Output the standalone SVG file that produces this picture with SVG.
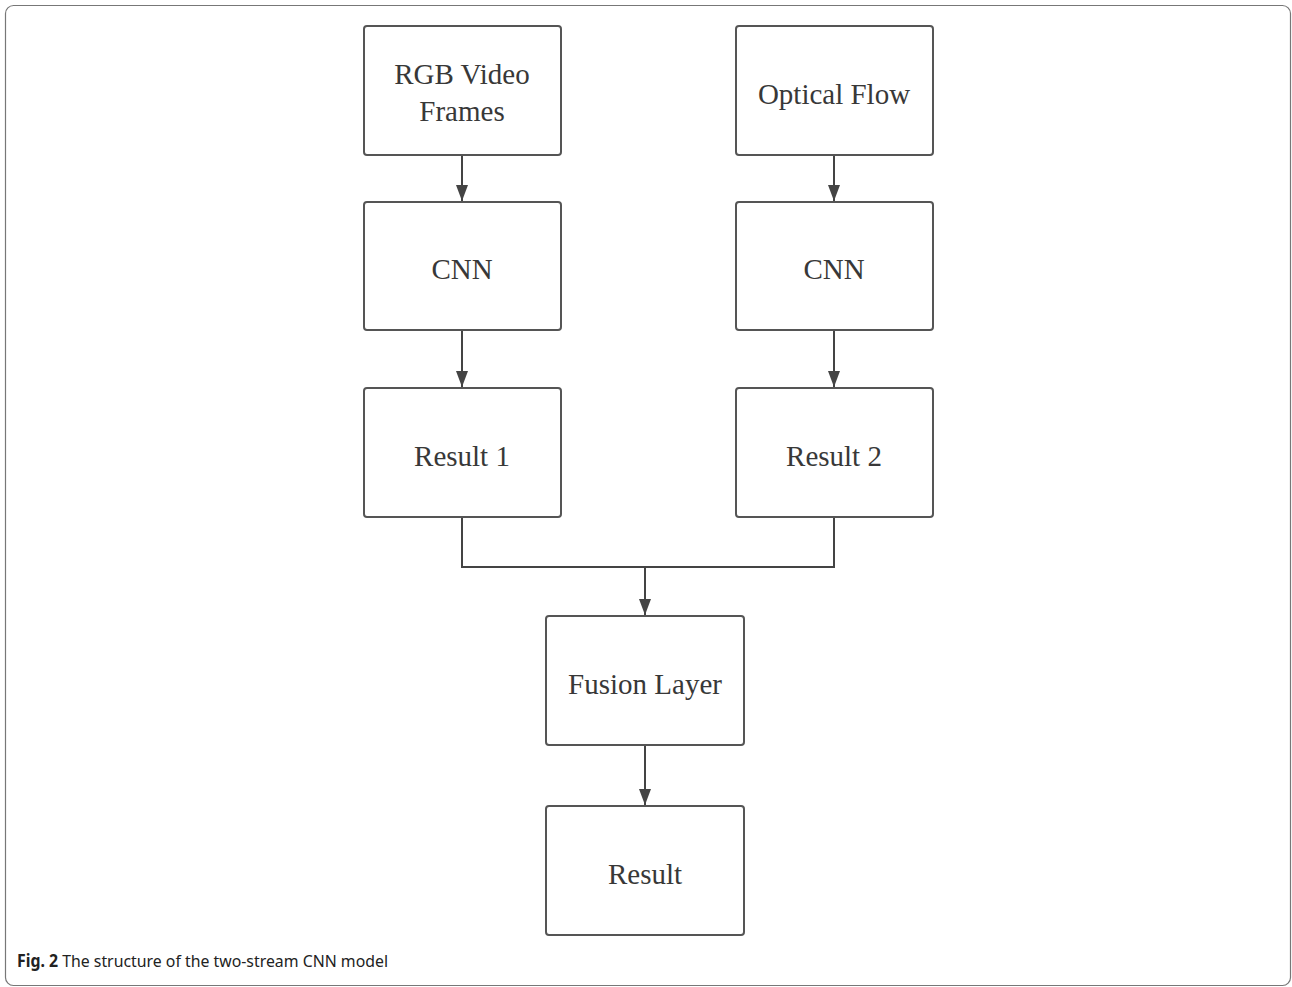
<svg xmlns="http://www.w3.org/2000/svg" width="1292" height="987" viewBox="0 0 1292 987">
<style>
.box{fill:#fff;stroke:#555;stroke-width:2}
.lbl{font-family:"Liberation Serif","Times New Roman",serif;font-size:29px;fill:#383838;text-anchor:middle}
.con{fill:none;stroke:#444;stroke-width:2}
.cap{font-family:"Noto Sans","Open Sans",sans-serif;font-size:17px;fill:#222}
</style>
<defs>
<marker id="ah" viewBox="0 0 16 12" refX="16" refY="6" markerWidth="16" markerHeight="12" markerUnits="userSpaceOnUse" orient="auto">
<path d="M0,0 L16,6 L0,12 Z" fill="#444"/>
</marker>
</defs>
<rect x="5.5" y="5.5" width="1285" height="980" rx="8" fill="#fff" stroke="#777" stroke-width="1.2"/>
<g id="connectors">
<line class="con" x1="462" y1="155" x2="462" y2="201" marker-end="url(#ah)"/>
<line class="con" x1="834" y1="155" x2="834" y2="201" marker-end="url(#ah)"/>
<line class="con" x1="462" y1="330" x2="462" y2="387" marker-end="url(#ah)"/>
<line class="con" x1="834" y1="330" x2="834" y2="387" marker-end="url(#ah)"/>
<polyline class="con" points="462,517 462,567 834,567 834,517"/>
<line class="con" x1="645" y1="567" x2="645" y2="615" marker-end="url(#ah)"/>
<line class="con" x1="645" y1="745" x2="645" y2="805" marker-end="url(#ah)"/>
</g>
<g id="rgb"><rect class="box" x="364" y="26" width="197" height="129" rx="3"/><text class="lbl" x="462" y="84">RGB Video</text><text class="lbl" x="462" y="121">Frames</text></g>
<g id="optical"><rect class="box" x="736" y="26" width="197" height="129" rx="3"/><text class="lbl" x="834" y="104">Optical Flow</text></g>
<g id="cnn1"><rect class="box" x="364" y="202" width="197" height="128" rx="3"/><text class="lbl" x="462" y="279">CNN</text></g>
<g id="cnn2"><rect class="box" x="736" y="202" width="197" height="128" rx="3"/><text class="lbl" x="834" y="279">CNN</text></g>
<g id="result1"><rect class="box" x="364" y="388" width="197" height="129" rx="3"/><text class="lbl" x="462" y="466">Result 1</text></g>
<g id="result2"><rect class="box" x="736" y="388" width="197" height="129" rx="3"/><text class="lbl" x="834" y="466">Result 2</text></g>
<g id="fusion"><rect class="box" x="546" y="616" width="198" height="129" rx="3"/><text class="lbl" x="645" y="694">Fusion Layer</text></g>
<g id="result"><rect class="box" x="546" y="806" width="198" height="129" rx="3"/><text class="lbl" x="645" y="884">Result</text></g>
<text class="cap" x="17" y="967" textLength="371" lengthAdjust="spacingAndGlyphs"><tspan font-weight="bold">Fig. 2</tspan> The structure of the two-stream CNN model</text>
</svg>
